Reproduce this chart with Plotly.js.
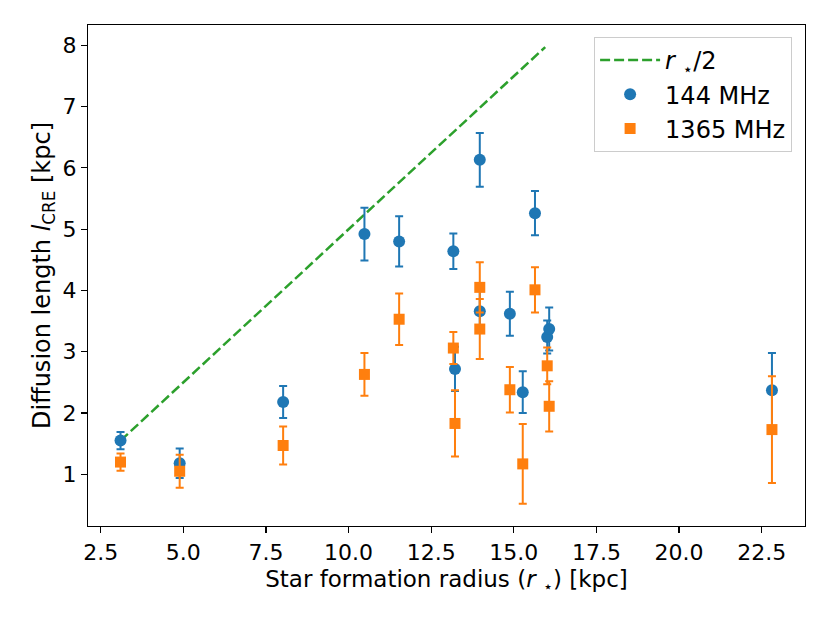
<!DOCTYPE html>
<html>
<head>
<meta charset="utf-8">
<script src="https://cdn.plot.ly/plotly-3.0.1.min.js"></script>
<style>
  html, body { margin: 0; padding: 0; background: #fff; }
  #grafico { width: 830px; height: 623px; }
</style>
</head>
<body>
<div id="grafico"></div>
<script>
// raio de formacao estelar r* [kpc] de cada galaxia
const raioEstelar = [3.10, 4.89, 8.02, 10.48, 11.53, 13.17, 13.22, 13.97, 13.97, 14.88, 15.27, 15.64, 16.01, 16.07, 22.81];

// comprimento de difusao a 144 MHz e seus erros
const difusao144 = [1.55, 1.18, 2.18, 4.92, 4.80, 4.64, 2.72, 6.13, 3.66, 3.62, 2.34, 5.26, 3.24, 3.37, 2.37];
const erro144 = [0.14, 0.24, 0.26, 0.43, 0.41, 0.29, 0.36, 0.44, 0.33, 0.36, 0.34, 0.36, 0.27, 0.35, 0.61];

// comprimento de difusao a 1365 MHz e seus erros
const difusao1365 = [1.20, 1.05, 1.47, 2.63, 3.53, 3.06, 1.83, 4.05, 3.37, 2.38, 1.17, 4.01, 2.77, 2.11, 1.73];
const erro1365 = [0.14, 0.27, 0.31, 0.35, 0.42, 0.26, 0.54, 0.41, 0.49, 0.37, 0.65, 0.37, 0.30, 0.41, 0.87];

// linha r*/2
const linhaX = [3.10, 15.95];
const linhaY = [1.55, 7.97];

const fonte = 'DejaVu Sans, Liberation Sans, sans-serif';

function gerarGrafico(){
	var traceLinha = {
		x: linhaX, y: linhaY,
		mode: 'lines',
		name: '<i>r</i> <sub>\u22c6</sub>/2',
		line: {color: '#2ca02c', width: 2.5, dash: '10px,4px'},
		type: 'scatter'};

	var trace144 = {
		x: raioEstelar, y: difusao144,
		mode: 'markers',
		name: '144 MHz',
		marker: {color: '#1f77b4', size: 12, symbol: 'circle'},
		error_y: {type: 'data', array: erro144, visible: true, color: '#1f77b4', thickness: 2, width: 4},
		type: 'scatter'};

	var trace1365 = {
		x: raioEstelar, y: difusao1365,
		mode: 'markers',
		name: '1365 MHz',
		marker: {color: '#ff7f0e', size: 11, symbol: 'square'},
		error_y: {type: 'data', array: erro1365, visible: true, color: '#ff7f0e', thickness: 2, width: 4},
		type: 'scatter'};

	var data = [traceLinha, trace144, trace1365];

	var eixo = {
		showline: true, mirror: true, linecolor: '#000', linewidth: 1.2,
		ticks: 'outside', ticklen: 6, tickwidth: 1.2, tickcolor: '#000',
		showgrid: false, zeroline: false,
		tickfont: {family: fonte, size: 22, color: '#000'}
	};

	var layout = {
		width: 830, height: 623,
		margin: {l: 88, r: 25, t: 25, b: 97},
		paper_bgcolor: '#fff', plot_bgcolor: '#fff',
		font: {family: fonte, color: '#000'},
		showlegend: true,
		xaxis: Object.assign({}, eixo, {
			range: [2.116, 23.81],
			tick0: 2.5, dtick: 2.5, tickformat: '.1f',
			title: {text: 'Star formation radius (<i>r</i> <sub>\u22c6</sub>) [kpc]', font: {family: fonte, size: 23, color: '#000'}, standoff: 7}
		}),
		yaxis: Object.assign({}, eixo, {
			range: [0.157, 8.33],
			tick0: 0, dtick: 1,
			title: {text: 'Diffusion length <i>l</i><sub>CRE</sub> [kpc]', font: {family: fonte, size: 24, color: '#000'}, standoff: 5}
		}),
		legend: {
			x: 0.982, y: 0.976, xanchor: 'right', yanchor: 'top',
			bgcolor: 'rgba(255,255,255,0.8)', bordercolor: '#cccccc', borderwidth: 1,
			font: {family: fonte, size: 24, color: '#000'},
			itemwidth: 60
		}
	};

	Plotly.newPlot('grafico', data, layout, {displayModeBar: false, staticPlot: true});
}

gerarGrafico();
</script>
</body>
</html>
